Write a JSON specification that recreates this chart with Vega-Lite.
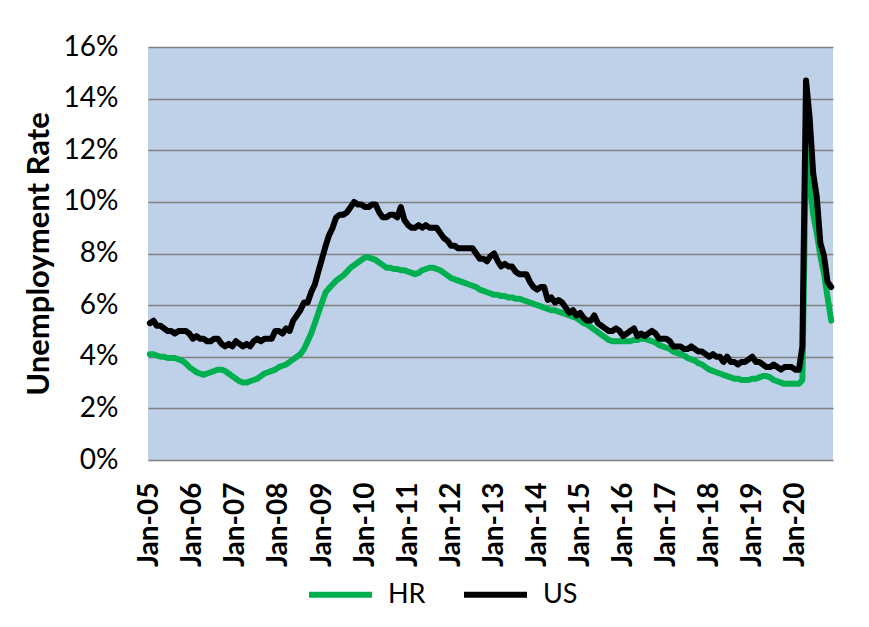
{
  "$schema": "https://vega.github.io/schema/vega-lite/v6.json",
  "width": 685,
  "height": 413,
  "autosize": {"type": "none"},
  "padding": {"left": 148, "top": 47, "right": 36, "bottom": 167},
  "background": "#ffffff",
  "config": {
    "font": "Lato",
    "view": {"fill": "#bfd1e8", "stroke": null}
  },
  "data": {
    "values": [
      {"d":"2005-01","HR":4.1,"US":5.3},{"d":"2005-02","HR":4.1,"US":5.4},{"d":"2005-03","HR":4.05,"US":5.2},{"d":"2005-04","HR":4.0,"US":5.2},{"d":"2005-05","HR":4.0,"US":5.1},{"d":"2005-06","HR":3.95,"US":5.0},{"d":"2005-07","HR":3.95,"US":5.0},{"d":"2005-08","HR":3.95,"US":4.9},{"d":"2005-09","HR":3.9,"US":5.0},{"d":"2005-10","HR":3.85,"US":5.0},{"d":"2005-11","HR":3.75,"US":5.0},{"d":"2005-12","HR":3.6,"US":4.9},
      {"d":"2006-01","HR":3.5,"US":4.7},{"d":"2006-02","HR":3.4,"US":4.8},{"d":"2006-03","HR":3.35,"US":4.7},{"d":"2006-04","HR":3.3,"US":4.7},{"d":"2006-05","HR":3.35,"US":4.6},{"d":"2006-06","HR":3.4,"US":4.6},{"d":"2006-07","HR":3.45,"US":4.7},{"d":"2006-08","HR":3.5,"US":4.7},{"d":"2006-09","HR":3.5,"US":4.5},{"d":"2006-10","HR":3.45,"US":4.4},{"d":"2006-11","HR":3.35,"US":4.5},{"d":"2006-12","HR":3.25,"US":4.4},
      {"d":"2007-01","HR":3.15,"US":4.6},{"d":"2007-02","HR":3.05,"US":4.5},{"d":"2007-03","HR":3.0,"US":4.4},{"d":"2007-04","HR":3.0,"US":4.5},{"d":"2007-05","HR":3.05,"US":4.4},{"d":"2007-06","HR":3.1,"US":4.6},{"d":"2007-07","HR":3.15,"US":4.7},{"d":"2007-08","HR":3.25,"US":4.6},{"d":"2007-09","HR":3.35,"US":4.7},{"d":"2007-10","HR":3.4,"US":4.7},{"d":"2007-11","HR":3.45,"US":4.7},{"d":"2007-12","HR":3.5,"US":5.0},
      {"d":"2008-01","HR":3.6,"US":5.0},{"d":"2008-02","HR":3.65,"US":4.9},{"d":"2008-03","HR":3.7,"US":5.1},{"d":"2008-04","HR":3.8,"US":5.0},{"d":"2008-05","HR":3.9,"US":5.4},{"d":"2008-06","HR":4.0,"US":5.6},{"d":"2008-07","HR":4.1,"US":5.8},{"d":"2008-08","HR":4.3,"US":6.1},{"d":"2008-09","HR":4.6,"US":6.1},{"d":"2008-10","HR":4.9,"US":6.5},{"d":"2008-11","HR":5.3,"US":6.8},{"d":"2008-12","HR":5.7,"US":7.3},
      {"d":"2009-01","HR":6.1,"US":7.8},{"d":"2009-02","HR":6.5,"US":8.3},{"d":"2009-03","HR":6.65,"US":8.7},{"d":"2009-04","HR":6.8,"US":9.0},{"d":"2009-05","HR":6.95,"US":9.4},{"d":"2009-06","HR":7.05,"US":9.5},{"d":"2009-07","HR":7.15,"US":9.5},{"d":"2009-08","HR":7.3,"US":9.6},{"d":"2009-09","HR":7.45,"US":9.8},{"d":"2009-10","HR":7.55,"US":10.0},{"d":"2009-11","HR":7.65,"US":9.9},{"d":"2009-12","HR":7.75,"US":9.9},
      {"d":"2010-01","HR":7.85,"US":9.8},{"d":"2010-02","HR":7.85,"US":9.8},{"d":"2010-03","HR":7.8,"US":9.9},{"d":"2010-04","HR":7.75,"US":9.9},{"d":"2010-05","HR":7.65,"US":9.6},{"d":"2010-06","HR":7.55,"US":9.4},{"d":"2010-07","HR":7.45,"US":9.4},{"d":"2010-08","HR":7.45,"US":9.5},{"d":"2010-09","HR":7.4,"US":9.5},{"d":"2010-10","HR":7.4,"US":9.4},{"d":"2010-11","HR":7.35,"US":9.8},{"d":"2010-12","HR":7.35,"US":9.3},
      {"d":"2011-01","HR":7.3,"US":9.1},{"d":"2011-02","HR":7.25,"US":9.0},{"d":"2011-03","HR":7.2,"US":9.0},{"d":"2011-04","HR":7.25,"US":9.1},{"d":"2011-05","HR":7.35,"US":9.0},{"d":"2011-06","HR":7.4,"US":9.1},{"d":"2011-07","HR":7.45,"US":9.0},{"d":"2011-08","HR":7.45,"US":9.0},{"d":"2011-09","HR":7.4,"US":9.0},{"d":"2011-10","HR":7.35,"US":8.8},{"d":"2011-11","HR":7.25,"US":8.6},{"d":"2011-12","HR":7.15,"US":8.5},
      {"d":"2012-01","HR":7.05,"US":8.3},{"d":"2012-02","HR":7.0,"US":8.3},{"d":"2012-03","HR":6.95,"US":8.2},{"d":"2012-04","HR":6.9,"US":8.2},{"d":"2012-05","HR":6.85,"US":8.2},{"d":"2012-06","HR":6.8,"US":8.2},{"d":"2012-07","HR":6.75,"US":8.2},{"d":"2012-08","HR":6.7,"US":8.0},{"d":"2012-09","HR":6.6,"US":7.8},{"d":"2012-10","HR":6.55,"US":7.8},{"d":"2012-11","HR":6.5,"US":7.7},{"d":"2012-12","HR":6.45,"US":7.9},
      {"d":"2013-01","HR":6.4,"US":8.0},{"d":"2013-02","HR":6.4,"US":7.7},{"d":"2013-03","HR":6.35,"US":7.5},{"d":"2013-04","HR":6.35,"US":7.6},{"d":"2013-05","HR":6.3,"US":7.5},{"d":"2013-06","HR":6.3,"US":7.5},{"d":"2013-07","HR":6.25,"US":7.3},{"d":"2013-08","HR":6.25,"US":7.2},{"d":"2013-09","HR":6.2,"US":7.2},{"d":"2013-10","HR":6.15,"US":7.2},{"d":"2013-11","HR":6.1,"US":6.9},{"d":"2013-12","HR":6.05,"US":6.7},
      {"d":"2014-01","HR":6.0,"US":6.6},{"d":"2014-02","HR":5.95,"US":6.7},{"d":"2014-03","HR":5.9,"US":6.7},{"d":"2014-04","HR":5.85,"US":6.2},{"d":"2014-05","HR":5.8,"US":6.3},{"d":"2014-06","HR":5.8,"US":6.1},{"d":"2014-07","HR":5.75,"US":6.2},{"d":"2014-08","HR":5.7,"US":6.1},{"d":"2014-09","HR":5.65,"US":5.9},{"d":"2014-10","HR":5.6,"US":5.7},{"d":"2014-11","HR":5.55,"US":5.8},{"d":"2014-12","HR":5.5,"US":5.6},
      {"d":"2015-01","HR":5.4,"US":5.7},{"d":"2015-02","HR":5.3,"US":5.5},{"d":"2015-03","HR":5.25,"US":5.4},{"d":"2015-04","HR":5.15,"US":5.4},{"d":"2015-05","HR":5.05,"US":5.6},{"d":"2015-06","HR":4.95,"US":5.3},{"d":"2015-07","HR":4.85,"US":5.2},{"d":"2015-08","HR":4.75,"US":5.1},{"d":"2015-09","HR":4.65,"US":5.0},{"d":"2015-10","HR":4.6,"US":5.0},{"d":"2015-11","HR":4.6,"US":5.1},{"d":"2015-12","HR":4.6,"US":5.0},
      {"d":"2016-01","HR":4.6,"US":4.8},{"d":"2016-02","HR":4.6,"US":4.9},{"d":"2016-03","HR":4.6,"US":5.0},{"d":"2016-04","HR":4.65,"US":5.1},{"d":"2016-05","HR":4.65,"US":4.8},{"d":"2016-06","HR":4.7,"US":4.9},{"d":"2016-07","HR":4.7,"US":4.8},{"d":"2016-08","HR":4.65,"US":4.9},{"d":"2016-09","HR":4.6,"US":5.0},{"d":"2016-10","HR":4.55,"US":4.9},{"d":"2016-11","HR":4.45,"US":4.7},{"d":"2016-12","HR":4.4,"US":4.7},
      {"d":"2017-01","HR":4.35,"US":4.7},{"d":"2017-02","HR":4.3,"US":4.6},{"d":"2017-03","HR":4.2,"US":4.4},{"d":"2017-04","HR":4.15,"US":4.4},{"d":"2017-05","HR":4.1,"US":4.4},{"d":"2017-06","HR":4.05,"US":4.3},{"d":"2017-07","HR":3.95,"US":4.3},{"d":"2017-08","HR":3.9,"US":4.4},{"d":"2017-09","HR":3.85,"US":4.3},{"d":"2017-10","HR":3.75,"US":4.2},{"d":"2017-11","HR":3.7,"US":4.2},{"d":"2017-12","HR":3.6,"US":4.1},
      {"d":"2018-01","HR":3.5,"US":4.0},{"d":"2018-02","HR":3.45,"US":4.1},{"d":"2018-03","HR":3.4,"US":4.0},{"d":"2018-04","HR":3.35,"US":4.0},{"d":"2018-05","HR":3.3,"US":3.8},{"d":"2018-06","HR":3.25,"US":4.0},{"d":"2018-07","HR":3.2,"US":3.8},{"d":"2018-08","HR":3.15,"US":3.8},{"d":"2018-09","HR":3.15,"US":3.7},{"d":"2018-10","HR":3.1,"US":3.8},{"d":"2018-11","HR":3.1,"US":3.8},{"d":"2018-12","HR":3.1,"US":3.9},
      {"d":"2019-01","HR":3.15,"US":4.0},{"d":"2019-02","HR":3.15,"US":3.8},{"d":"2019-03","HR":3.2,"US":3.8},{"d":"2019-04","HR":3.25,"US":3.7},{"d":"2019-05","HR":3.25,"US":3.6},{"d":"2019-06","HR":3.2,"US":3.6},{"d":"2019-07","HR":3.1,"US":3.7},{"d":"2019-08","HR":3.05,"US":3.6},{"d":"2019-09","HR":3.0,"US":3.5},{"d":"2019-10","HR":2.95,"US":3.6},{"d":"2019-11","HR":2.95,"US":3.6},{"d":"2019-12","HR":2.95,"US":3.6},
      {"d":"2020-01","HR":2.95,"US":3.5},{"d":"2020-02","HR":2.95,"US":3.5},{"d":"2020-03","HR":3.1,"US":4.4},{"d":"2020-04","HR":12.0,"US":14.7},{"d":"2020-05","HR":10.8,"US":13.3},{"d":"2020-06","HR":9.5,"US":11.1},{"d":"2020-07","HR":8.8,"US":10.2},{"d":"2020-08","HR":7.9,"US":8.4},{"d":"2020-09","HR":7.2,"US":7.9},{"d":"2020-10","HR":6.3,"US":6.9},{"d":"2020-11","HR":5.4,"US":6.7}
    ]
  },
  "transform": [
    {"fold": ["HR", "US"], "as": ["series", "rate"]}
  ],
  "mark": {"type": "line", "strokeWidth": 6, "strokeJoin": "round", "strokeCap": "round"},
  "encoding": {
    "x": {
      "field": "d",
      "type": "temporal",
      "scale": {
        "type": "utc",
        "domain": [
          {"year": 2004, "month": 12, "date": 16, "utc": true},
          {"year": 2020, "month": 11, "date": 16, "utc": true}
        ]
      },
      "axis": {
        "title": null,
        "format": "%b-%y",
        "tickCount": {"interval": "year", "step": 1},
        "labelAngle": -90,
        "labelFontSize": 28,
        "labelFontWeight": "bold",
        "labelColor": "#000000",
        "labelPadding": 22,
        "labelOverlap": false,
        "labelFlush": false,
        "grid": false,
        "ticks": false,
        "domain": false
      }
    },
    "y": {
      "field": "rate",
      "type": "quantitative",
      "scale": {"domain": [0, 16], "nice": false},
      "axis": {
        "title": "Unemployment Rate",
        "titleFontSize": 31,
        "titleFontWeight": "bold",
        "titleColor": "#000000",
        "titlePadding": 8,
        "values": [0, 2, 4, 6, 8, 10, 12, 14, 16],
        "labelExpr": "datum.value + '%'",
        "labelFontSize": 28,
        "labelColor": "#000000",
        "labelPadding": 30,
        "ticks": false,
        "domain": false,
        "grid": true,
        "gridColor": "#7f7f7f",
        "gridWidth": 1.5,
        "gridOpacity": 1
      }
    },
    "color": {
      "field": "series",
      "type": "nominal",
      "scale": {"domain": ["HR", "US"], "range": ["#00b050", "#000000"]},
      "legend": {
        "title": null,
        "orient": "none",
        "direction": "horizontal",
        "legendX": 158,
        "legendY": 513,
        "symbolType": "stroke",
        "symbolSize": 3969,
        "symbolStrokeWidth": 6,
        "labelFontSize": 27,
        "labelColor": "#000000",
        "labelOffset": 13,
        "columnPadding": 26,
        "padding": 0
      }
    }
  }
}
